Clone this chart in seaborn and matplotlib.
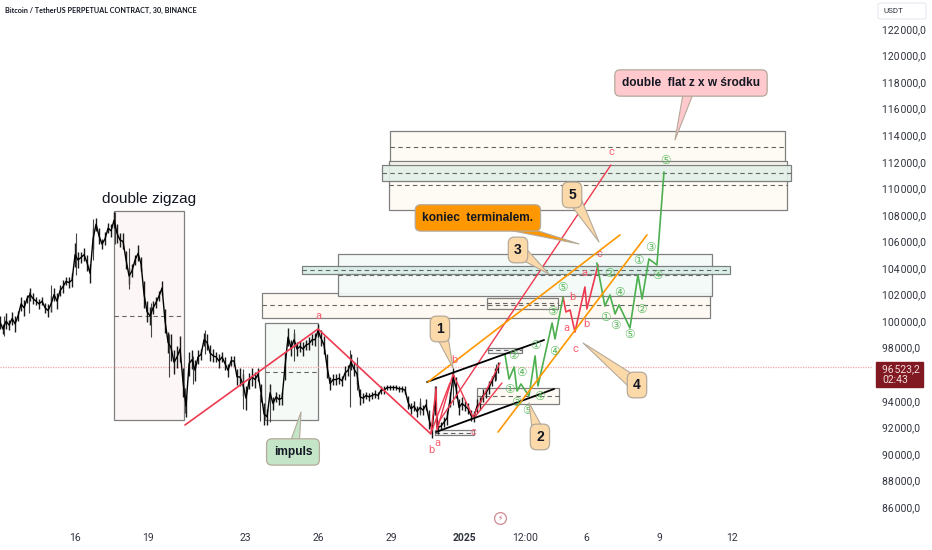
import numpy as np
import pandas as pd
import matplotlib
matplotlib.use("Agg")
import matplotlib.pyplot as plt
from matplotlib.patches import Rectangle, FancyBboxPatch
import seaborn as sns

# ---- data: x in days since 16 Dec, y in thousands of USDT ----
price_close = [
 99.9,99.4,100.0,99.7,100.2,99.8,100.4,101.3,101.0,101.7,102.0,101.7,101.5,101.3,101.5,101.0,100.8,101.3,102.0,101.5,
 102.3,102.6,103.0,102.9,103.1,105.0,104.6,104.8,105.0,104.4,103.6,106.2,107.3,106.4,105.8,106.2,107.0,106.8,107.6,106.6,
 106.1,106.0,104.6,103.4,103.8,104.6,105.1,104.3,102.0,100.7,100.4,101.0,101.4,101.9,102.5,100.0,98.4,98.0,96.9,97.3,
 97.9,95.4,93.6,96.8,97.1,96.3,97.3,97.5,98.6,98.4,97.6,97.4,97.3,97.0,97.3,96.8,96.3,97.0,97.0,95.8,
 95.8,95.2,94.2,95.5,95.8,95.6,96.0,94.6,93.0,92.8,94.6,93.8,94.3,94.1,94.2,96.6,98.8,98.0,98.6,97.9,
 98.1,97.9,98.2,98.3,98.6,98.6,99.3,98.7,98.2,96.6,95.3,95.6,95.6,95.7,95.5,96.1,96.3,96.9,96.4,96.0,
 94.3,94.2,94.4,94.3,94.4,94.5,94.4,94.8,94.8,95.0,95.0,95.0,95.0,94.9,94.9,94.8,93.9,93.4,93.6,93.2,
 93.5,93.3,93.7,92.6,91.8,94.0,92.0,92.1,92.4,92.7,94.1,95.8,95.0,93.5,93.8,93.6,93.4,92.9,92.8,93.6,
 93.8,94.4,94.6,95.0,95.5,96.0,96.5]
price_swing = [
 .5,.4,.6,.4,.5,.6,.4,.5,.6,.3,.5,.4,.3,.4,.3,.4,.5,.6,.5,.6,
 .4,.5,.3,.4,.5,.9,.6,.4,.5,.6,.7,.8,.5,.6,.4,.5,.4,.5,.6,.7,
 .5,.6,.7,.6,.5,.4,.6,.5,1.0,.8,.7,.5,.4,.4,.5,.9,.8,1.0,.9,.8,
 1.0,1.1,.8,.9,.7,.8,.5,.4,.5,.6,.6,.5,.4,.5,.4,.5,.5,.4,.4,.6,
 .7,.8,.9,.6,.7,.6,.5,.7,.8,.6,.7,.5,.4,.4,.5,1.0,.7,.6,.5,.5,
 .4,.5,.4,.5,.4,.5,.5,.6,.7,.9,.5,.4,.4,.4,.4,.5,.4,.6,.5,.7,
 .6,.4,.3,.3,.3,.3,.3,.3,.3,.2,.2,.2,.2,.2,.2,.3,.5,.4,.4,.4,
 .4,.4,.4,.7,.6,1.1,.5,.3,.4,.5,.6,.7,.8,.6,.5,.4,.4,.4,.4,.5,
 .5,.5,.4,.5,.4,.5,.4]
price_start_day = -3.08
price_step_day = 0.1233

wick_days = [-2.9,-1.9,-1.0,0.04,0.74,1.64,2.2,3.12,3.86,4.52,4.85,5.34,6.9,7.6,8.0,9.0,11.3,11.6,14.2,14.84,15.54,17.3]
wick_lows = [98.9,100.6,100.8,103.5,104.6,105.8,102.4,98.8,95.8,93.1,95.3,97.5,93.4,92.5,92.4,97.0,93.5,94.8,92.9,92.0,93.7,95.6]
wick_highs= [100.4,102.2,102.7,106.6,107.7,108.2,105.5,101.4,99.0,95.0,97.4,99.3,96.4,94.5,94.9,99.4,97.8,97.3,94.2,95.1,96.2,96.8]

# boxes: left day, right day, low price, high price, dashed price
box_left  = [1.6, 7.81, 7.69, 10.81, 9.33, 16.93, 16.52, 16.98, 14.8, 12.95, 12.9, 12.62]
box_right = [4.48, 9.99, 26.1, 26.18, 26.92, 19.85, 19.89, 18.37, 16.4, 29.18, 29.27, 29.43]
box_low   = [92.56, 92.56, 100.2, 101.9, 103.55, 100.92, 93.76, 97.6, 91.43, 111.91, 108.37, 110.55]
box_high  = [108.3, 99.86, 102.12, 105.06, 104.15, 101.74, 94.97, 97.98, 91.8, 114.32, 112.06, 111.76]
box_mid   = [100.4, 96.17, 101.2, 103.48, 103.85, 101.4, 94.36, 97.79, 91.6, 113.11, 110.25, 111.16]

red_main_d = [4.52, 9.99, 14.63]
red_main_p = [92.18, 99.41, 91.5]
red_a_d = [14.63, 14.84, 14.88, 15.54, 16.36, 17.47]
red_a_p = [91.58, 94.97, 91.8, 96.02, 92.78, 96.85]
red_seg_start_d = [16.4, 14.92, 14.63]
red_seg_start_p = [92.71, 92.33, 91.58]
red_seg_end_d = [17.55, 22.03, 15.41]
red_seg_end_p = [95.34, 111.76, 95.34]

black_start_d = [14.47, 14.84]
black_start_p = [95.42, 91.65]
black_end_d = [19.28, 19.69]
black_end_p = [98.58, 94.89]
orange_start_d = [14.51, 17.39]
orange_start_p = [95.42, 91.65]
orange_end_d = [22.4, 23.51]
orange_end_p = [106.49, 106.49]

green1_d = [17.67,17.84,18.05,18.17,18.33,18.66,18.91,19.03,19.61,19.73,20.06]
green1_p = [97.53,95.64,96.55,94.74,95.27,94.36,97.38,95.12,99.86,98.66,101.82]
red2_d = [20.06,20.18,20.35,20.55,20.96,21.04,21.5]
red2_p = [101.82,100.69,100.84,99.18,102.57,100.92,104.23]
green2_d = [21.45,21.78,21.99,22.2,22.36,22.81,23.14,23.31,23.59,23.92,24.21]
green2_p = [104.38,101.14,101.97,100.54,101.22,99.48,103.48,101.67,104.68,104.23,111.23]

letter_text = ['a','b','a','b','c','a','b','c','b','a','c','c']
letter_d = [9.99,14.63,14.88,15.58,16.36,20.18,20.43,20.55,21.04,20.96,21.54,22.03]
letter_p = [100.39,90.3,90.83,97.07,91.65,99.48,101.82,97.9,99.79,103.63,105.06,112.74]

digit_text = ['①','③','⑤','④','④','②','①','④','③','⑤','②','④','①','③','⑤','②','①','③','④','⑤']
digit_d = [17.84,18.13,18.6,19.1,18.33,18.0,18.91,19.69,19.61,20.02,21.95,22.36,21.78,22.2,22.77,23.26,23.14,23.63,23.92,24.25]
digit_p = [94.82,93.91,93.3,94.3,96.1,97.38,98.2,97.75,100.69,102.5,103.55,102.12,100.31,99.64,98.96,100.84,104.53,105.51,103.4,112.06]

callout_text = ['double  flat z x w środku','koniec  terminalem.','1','2','3','4','5','impuls']
callout_d = [25.32,16.56,15.0,19.11,18.21,23.1,20.43,8.96]
callout_p = [117.93,107.77,99.41,91.28,105.36,95.19,109.5,90.15]
callout_tip_d = [24.66,20.72,15.54,18.66,19.48,20.88,21.54,9.29]
callout_tip_p = [113.64,105.81,96.47,93.84,103.55,98.36,105.96,93.16]
callout_color = ['#ffc9ce','#ff9800','#fcd9a8','#fcd9a8','#fcd9a8','#fcd9a8','#fcd9a8','#c5e5c8']

y_ticks = [86,88,90,92,94,98,100,102,104,106,108,110,112,114,116,118,120,122]
y_labels = ['%d\u200a000,0' % v for v in y_ticks]
x_ticks = [0,3,7,10,13,16,18.5,21,24,27]
x_labels = ['16','19','23','26','29','2025','12:00','6','9','12']
last_price = 96.52
last_label = '96\u200a523,2\n02:43'
title = 'Bitcoin / TetherUS PERPETUAL CONTRACT, 30, BINANCE'

# ---- drawing ----
sns.set_theme(style='white')
plt.rcParams['font.family'] = ['Roboto', 'DejaVu Sans']
W, H = 932, 550
fig = plt.figure(figsize=(W/100, H/100), dpi=100, facecolor='white')
ax = fig.add_axes([0, 1-525/H, 872/W, 525/H])
ax.set_xlim(-3.083, 32.76)
ax.set_ylim(84.65, 124.18)
sns.despine(ax=ax, left=True, bottom=True, right=True, top=True)

box_fill = ['#fdf6f6','#f5faf6','#fefaf3','#f3faf7','#d8efe9','#fbf6ee','#fefaf3','#f5f5f5','#f7f7f7','#fefbf4','#fefbf4','#e2f0e8']
for i in range(len(box_left)):
    ax.add_patch(Rectangle((box_left[i], box_low[i]), box_right[i]-box_left[i], box_high[i]-box_low[i],
                           fc=box_fill[i], ec='#757575', lw=0.9, alpha=0.92, zorder=1))
    ax.hlines(box_mid[i], box_left[i], box_right[i], color='#666666', lw=0.8, ls=(0, (4, 3)), zorder=1.5)

ax.axhline(last_price, color='#f7a9ae', lw=0.9, ls=(0, (1, 1)), zorder=1.6)

frame = pd.DataFrame({'day': price_start_day + price_step_day*np.arange(len(price_close)), 'price': price_close})
bar_lo = frame['price'] - np.array(price_swing)
bar_hi = frame['price'] + np.array(price_swing)
ax.vlines(frame['day'], bar_lo, bar_hi, color='#1a1a1a', lw=1.0, zorder=2)
ax.vlines(wick_days, wick_lows, wick_highs, color='#444444', lw=0.8, zorder=2)
sns.lineplot(data=frame, x='day', y='price', color='black', lw=1.0, ax=ax, zorder=2.2, errorbar=None)

RED = '#ee3a50'; GREEN = '#4caf50'; ORANGE = '#ff9800'
sns.lineplot(x=red_main_d, y=red_main_p, sort=False, color=RED, lw=1.2, ax=ax, zorder=3, errorbar=None)
sns.lineplot(x=red_a_d, y=red_a_p, sort=False, color=RED, lw=1.0, ax=ax, zorder=3, errorbar=None)
sns.lineplot(x=red2_d, y=red2_p, sort=False, color=RED, lw=1.2, ax=ax, zorder=3, errorbar=None)
sns.lineplot(x=green1_d, y=green1_p, sort=False, color=GREEN, lw=1.2, ax=ax, zorder=3, errorbar=None)
sns.lineplot(x=green2_d, y=green2_p, sort=False, color=GREEN, lw=1.2, ax=ax, zorder=3, errorbar=None)
for xs, ys, xe, ye in zip(red_seg_start_d, red_seg_start_p, red_seg_end_d, red_seg_end_p):
    ax.plot([xs, xe], [ys, ye], color=RED, lw=1.0, zorder=3)
for xs, ys, xe, ye in zip(black_start_d, black_start_p, black_end_d, black_end_p):
    ax.plot([xs, xe], [ys, ye], color='black', lw=1.3, zorder=3)
for xs, ys, xe, ye in zip(orange_start_d, orange_start_p, orange_end_d, orange_end_p):
    ax.plot([xs, xe], [ys, ye], color=ORANGE, lw=1.2, zorder=3)

for t, d, p in zip(letter_text, letter_d, letter_p):
    ax.text(d, p, t, color='#f4606f', fontsize=8, ha='center', va='center', zorder=4)
for t, d, p in zip(digit_text, digit_d, digit_p):
    ax.text(d, p, t, color='#5cb85f', fontsize=8.5, family=['DejaVu Sans'], ha='center', va='center', zorder=4)

ax.text(3.04, 109.2, 'double zigzag', color='#131722', fontsize=11, family=['Liberation Sans'], ha='center', va='center', zorder=4)

for i, t in enumerate(callout_text):
    short = len(t) == 1
    ax.annotate(t, xy=(callout_tip_d[i], callout_tip_p[i]), xytext=(callout_d[i], callout_p[i]),
                ha='center', va='center', fontsize=10 if short else 8.6, fontweight='bold', color='#131722',
                family=['Liberation Sans'], zorder=5,
                bbox=dict(boxstyle='round,pad=%s,rounding_size=0.45' % (0.42 if short else 0.6),
                          fc=callout_color[i], ec='#b5a99a', lw=0.9),
                arrowprops=dict(arrowstyle='wedge,tail_width=1.0,shrink_factor=0.5', fc=callout_color[i],
                                ec='#b5a99a', lw=0.8, shrinkA=0, shrinkB=0, patchA=None, relpos=(0.5, 0.5)))

ax.yaxis.tick_right()
ax.set_yticks(y_ticks)
ax.set_yticklabels(y_labels, fontsize=7.5, color='#30343f')
ax.tick_params(axis='y', length=0, pad=7.5)
ax.set_xticks(x_ticks)
ax.set_xticklabels(x_labels, fontsize=7.5, color='#30343f')
ax.get_xticklabels()[5].set_fontweight('bold')
ax.tick_params(axis='x', length=0, pad=5.5)
ax.set_xlabel(''); ax.set_ylabel('')
ax.grid(False)

# right-axis furniture
fig.patches.append(FancyBboxPatch((878/W, 1-19/H), 48/W, 16/H, boxstyle='round,pad=0,rounding_size=0.003',
                                  transform=fig.transFigure, fc='white', ec='#e6e8ee', lw=0.8))
fig.text(883/W, 1-11/H, 'USDT', fontsize=5.8, color='#30343f', va='center', ha='left')
fig.patches.append(Rectangle((876/W, 1-387/H), 47/W, 25/H, transform=fig.transFigure, fc='#801922', ec='#801922'))
fig.text(882/W, 1-374.5/H, last_label, fontsize=7.5, color='#f3dcdc', va='center', ha='left', linespacing=1.1)
ax.plot(17.47, 85.18, 'o', ms=8.5, mfc='white', mec='#cf8a92', mew=0.9, zorder=4)
ax.text(17.47, 85.18, '⚡', fontsize=5.5, color='#c9757f', family=['DejaVu Sans'], ha='center', va='center', zorder=5)

fig.text(5/W, 1-10/H, title, fontsize=5.2, color='#131722', family=['Lato'], fontweight='bold', va='center', ha='left')

fig.savefig('out.png', dpi=100)
